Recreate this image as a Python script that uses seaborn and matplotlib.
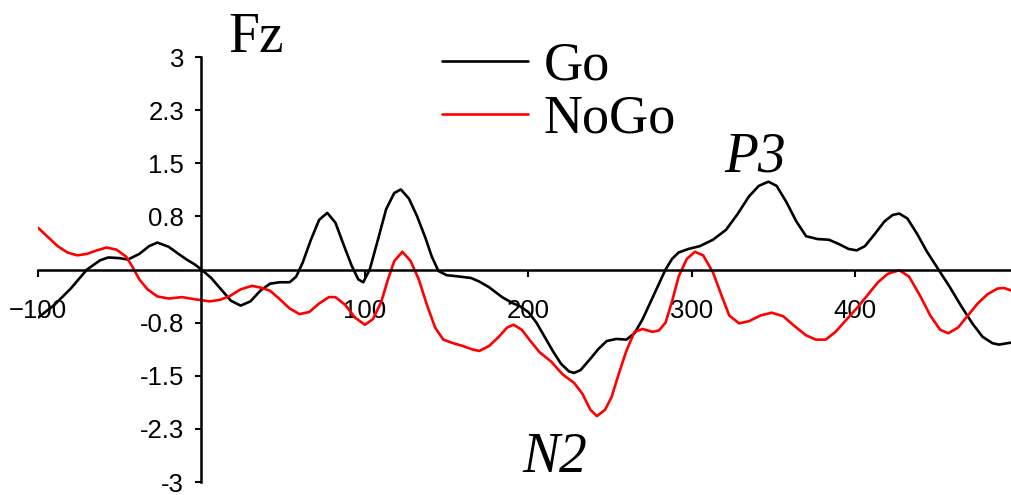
#Import necessary libraries

import pandas as pd
import matplotlib
matplotlib.use('Agg')
import matplotlib.pyplot as plt
import seaborn as sns

# ERP values at Fz (ms, microvolts)

go_time = [-100, -90, -80, -70, -62, -57, -50, -45, -38, -32, -27, -20, -14, -9, -4, 0,
           6, 12, 18, 24, 30, 36, 42, 48, 54, 58, 62, 67, 72, 77, 82, 87, 92, 96, 99,
           103, 108, 113, 118, 122, 127, 132, 137, 141, 145, 150, 158, 165, 170, 176,
           184, 190, 195, 200, 205, 210, 215, 220, 225, 228, 232, 238, 243, 248, 254,
           260, 265, 270, 275, 280, 284, 288, 292, 298, 305, 313, 321, 328, 335, 341,
           347, 352, 358, 364, 370, 377, 384, 390, 396, 401, 406, 412, 418, 423, 427,
           432, 438, 444, 451, 458, 465, 472, 478, 484, 488, 496]
go_uv = [-0.68, -0.5, -0.27, 0.0, 0.13, 0.17, 0.16, 0.14, 0.22, 0.33, 0.38, 0.32, 0.22, 0.14, 0.07, 0.0,
         -0.12, -0.28, -0.44, -0.51, -0.45, -0.3, -0.2, -0.18, -0.18, -0.1, 0.1, 0.42, 0.7, 0.8, 0.66, 0.35, 0.05, -0.14, -0.18,
         0.0, 0.42, 0.85, 1.08, 1.13, 1.0, 0.75, 0.45, 0.18, -0.02, -0.08, -0.1, -0.12, -0.17, -0.25,
         -0.39, -0.47, -0.52, -0.6, -0.75, -0.95, -1.15, -1.33, -1.44, -1.46, -1.42, -1.26, -1.12, -1.01, -0.98,
         -0.99, -0.9, -0.7, -0.45, -0.2, 0.0, 0.15, 0.24, 0.29, 0.33, 0.42, 0.56, 0.78, 1.03, 1.18,
         1.24, 1.18, 0.95, 0.68, 0.47, 0.43, 0.42, 0.36, 0.29, 0.27, 0.33, 0.5, 0.68, 0.77, 0.79,
         0.72, 0.5, 0.25, 0.0, -0.25, -0.52, -0.77, -0.95, -1.04, -1.06, -1.03]

nogo_time = [-100, -94, -88, -82, -76, -70, -64, -58, -52, -46, -42, -38, -33, -27, -20, -12, -4,
             5, 11, 17, 24, 31, 37, 42, 47, 54, 60, 66, 72, 78, 82, 88, 94, 100, 105, 110,
             114, 118, 123, 128, 133, 138, 143, 148, 154, 160, 166, 170, 176, 182, 187, 191,
             196, 201, 207, 214, 221, 228, 233, 238, 242, 247, 251, 255, 260, 265, 270, 276,
             280, 284, 288, 292, 297, 302, 307, 313, 318, 323, 329, 335, 342, 349, 356, 363,
             370, 376, 382, 388, 395, 402, 408, 414, 420, 427, 433, 440, 446, 452, 457, 463,
             469, 475, 481, 487, 491, 496]
nogo_uv = [0.59, 0.46, 0.33, 0.24, 0.2, 0.22, 0.27, 0.31, 0.28, 0.18, 0.03, -0.14, -0.28, -0.38, -0.41, -0.39, -0.42,
           -0.45, -0.43, -0.38, -0.28, -0.23, -0.26, -0.3, -0.4, -0.55, -0.63, -0.6, -0.48, -0.39, -0.39, -0.5, -0.68, -0.78, -0.7, -0.46,
           -0.15, 0.12, 0.25, 0.12, -0.14, -0.5, -0.82, -0.99, -1.04, -1.08, -1.13, -1.15, -1.08, -0.95, -0.82, -0.78,
           -0.85, -1.0, -1.17, -1.3, -1.48, -1.6, -1.75, -1.98, -2.07, -1.98, -1.8, -1.5, -1.15, -0.88, -0.84, -0.88,
           -0.86, -0.75, -0.45, -0.1, 0.15, 0.25, 0.2, -0.04, -0.35, -0.65, -0.76, -0.73, -0.65, -0.61, -0.66, -0.8,
           -0.93, -0.99, -0.99, -0.88, -0.7, -0.52, -0.35, -0.18, -0.06, -0.01, -0.1, -0.38, -0.65, -0.85, -0.9, -0.82,
           -0.65, -0.48, -0.35, -0.27, -0.26, -0.3]

x_ticks = [-100, 100, 200, 300, 400]
y_ticks = [-3, -2.25, -1.5, -0.75, 0.75, 1.5, 2.25, 3]
y_tick_labels = ['-3', '-2.3', '-1.5', '-0.8', '0.8', '1.5', '2.3', '3']

go_df = pd.DataFrame({'time': go_time, 'uv': go_uv})
nogo_df = pd.DataFrame({'time': nogo_time, 'uv': nogo_uv})

# Plot Go vs NoGo waveforms

sns.set_style('white')
plt.rcParams['font.family'] = ['Liberation Sans', 'DejaVu Sans']
plt.rcParams['text.color'] = 'black'
plt.rcParams['xtick.color'] = 'black'
plt.rcParams['ytick.color'] = 'black'

fig = plt.figure(figsize=(10.12, 4.95), dpi=100)
ax = fig.add_axes([38 / 1012, 13 / 495, 974 / 1012, 425 / 495])

sns.lineplot(data=go_df, x='time', y='uv', color='black', linewidth=1.9, label='Go', ax=ax,
             estimator=None, solid_joinstyle='round')
sns.lineplot(data=nogo_df, x='time', y='uv', color='#ff0000', linewidth=1.9, label='NoGo', ax=ax,
             estimator=None, solid_joinstyle='round')

ax.set_xlim(-100, 496)
ax.set_ylim(-3, 3)
ax.set_xlabel('')
ax.set_ylabel('')

# Axes cross at the origin
ax.spines['left'].set_position(('data', 0))
ax.spines['bottom'].set_position(('data', 0))
ax.spines['top'].set_visible(False)
ax.spines['right'].set_visible(False)
for side in ['left', 'bottom']:
    ax.spines[side].set_color('black')
    ax.spines[side].set_linewidth(1.8)

ax.set_xticks(x_ticks)
ax.set_yticks(y_ticks)
ax.set_yticklabels(y_tick_labels)
ax.tick_params(axis='x', direction='out', length=5, width=1.5, pad=16, labelsize=18.5, colors='black', bottom=True)
ax.tick_params(axis='y', direction='out', length=4.5, width=1.5, pad=8, labelsize=18.5, colors='black', left=True)

serif = ['Liberation Serif', 'DejaVu Serif']
leg = ax.legend(loc='center left', bbox_to_anchor=(442 / 1012, 402 / 495), bbox_transform=fig.transFigure,
                frameon=False, prop={'family': serif, 'size': 39}, handlelength=1.58,
                handletextpad=0.3, labelspacing=0.05, borderpad=0, borderaxespad=0)
for txt in leg.get_texts():
    txt.set_color('black')

fig.text(228 / 1012, (495 - 52) / 495, 'Fz', family=serif, fontsize=40, va='baseline', ha='left', color='black')
ax.text(339, 1.38, 'P3', family=serif, style='italic', fontsize=40, ha='center', va='baseline', color='black')
ax.text(216, -2.86, 'N2', family=serif, style='italic', fontsize=40, ha='center', va='baseline', color='black')

plt.savefig('out.png', dpi=100)
